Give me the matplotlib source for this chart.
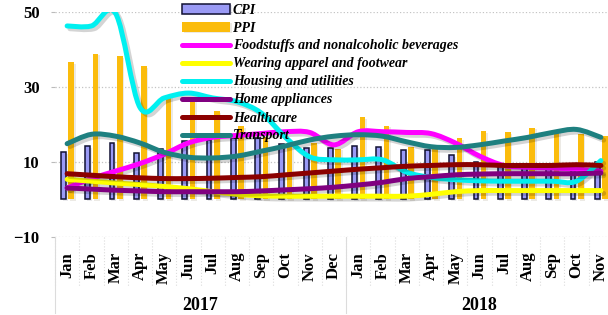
import numpy as np
import matplotlib
matplotlib.use('Agg')
import matplotlib.pyplot as plt
import matplotlib.patheffects as pe
from matplotlib.path import Path
from matplotlib.patches import PathPatch
from matplotlib.lines import Line2D
from matplotlib.transforms import blended_transform_factory

plt.rcParams['font.family'] = ['Liberation Serif', 'DejaVu Serif']

# Category axis: months of 2017 and 2018
months = ['Jan', 'Feb', 'Mar', 'Apr', 'May', 'Jun', 'Jul', 'Aug', 'Sep', 'Oct', 'Nov', 'Dec',
          'Jan', 'Feb', 'Mar', 'Apr', 'May', 'Jun', 'Jul', 'Aug', 'Sep', 'Oct', 'Nov']
years = ['2017', '2018']
year_counts = [12, 11]

# Bars (% year on year)
cpi = [12.6, 14.2, 15.1, 12.2, 13.5, 15.6, 15.9, 16.2, 16.4, 14.6, 13.6, 13.7,
       14.1, 13.9, 13.2, 13.1, 11.7, 9.9, 8.9, 9.0, 8.9, 9.5, 10.0]
ppi = [36.6, 38.8, 38.2, 35.4, 27.3, 26.8, 23.5, 19.5, 16.5, 14.0, 15.0, 13.5,
       21.9, 19.6, 13.8, 13.4, 16.3, 18.1, 17.9, 19.1, 18.3, 17.4, 16.8]

# Lines
food = [3.0, 5.5, 7.5, 9.5, 12.0, 15.0, 16.5, 17.0, 17.5, 18.0, 17.8, 14.5,
        18.0, 18.0, 17.8, 17.5, 15.0, 11.5, 9.0, 8.5, 8.3, 8.0, 7.5]
apparel = [5.3, 4.8, 4.3, 3.9, 3.4, 2.8, 2.0, 1.3, 0.9, 0.8, 0.8, 0.8,
           0.8, 0.8, 0.8, 1.3, 2.0, 2.3, 2.3, 2.3, 2.3, 2.3, 2.3]
housing = [46.2, 46.2, 49.5, 24.5, 27.0, 28.3, 27.0, 26.0, 23.0, 16.5, 11.3, 10.5,
           10.5, 10.5, 7.2, 5.8, 5.2, 4.9, 4.8, 4.8, 4.8, 4.8, 10.3]
appliances = [3.0, 2.7, 2.4, 2.2, 2.0, 2.0, 2.0, 2.0, 2.2, 2.5, 2.8, 3.2,
              3.8, 4.5, 5.5, 6.0, 6.5, 6.7, 6.8, 6.8, 6.8, 6.8, 7.0]
healthcare = [6.8, 6.4, 6.0, 5.7, 5.5, 5.5, 5.6, 5.8, 6.0, 6.5, 7.0, 7.5,
              8.0, 8.4, 8.8, 9.0, 9.2, 9.2, 9.0, 9.0, 9.0, 9.2, 9.0]
transport = [14.8, 17.3, 16.8, 15.0, 12.5, 11.2, 11.0, 11.5, 12.8, 14.2, 15.8, 16.8,
             17.2, 16.8, 15.3, 14.0, 13.8, 14.5, 15.5, 16.5, 17.8, 18.6, 16.5]

line_series = [
    ('Foodstuffs and nonalcoholic beverages', food, '#ff00ff'),
    ('Wearing apparel and footwear', apparel, '#ffff00'),
    ('Housing and utilities', housing, '#00f0f0'),
    ('Home appliances', appliances, '#800080'),
    ('Healthcare', healthcare, '#8b0000'),
    ('Transport', transport, '#1e8080'),
]


def smooth_path(xs, ys):
    # Excel-like smoothed line through the data points (cubic Bezier segments)
    pts = np.column_stack([xs, ys]).astype(float)
    n = len(pts)
    verts = [pts[0]]
    codes = [Path.MOVETO]
    for i in range(n - 1):
        p0 = pts[i - 1] if i > 0 else pts[i]
        p1 = pts[i]
        p2 = pts[i + 1]
        p3 = pts[i + 2] if i + 2 < n else pts[i + 1]
        verts += [p1 + (p2 - p0) / 6, p2 - (p3 - p1) / 6, p2]
        codes += [Path.CURVE4] * 3
    return Path(verts, codes)


fig = plt.figure(figsize=(6.08, 3.15), dpi=100)
ax = fig.add_axes([55 / 608, 78.3 / 315, 558 / 608, 225 / 315])

x = np.arange(len(months))
shadow_bar = [pe.SimplePatchShadow(offset=(1.2, -1.2), alpha=0.1), pe.Normal()]
b1 = ax.bar(x - 0.15, cpi, width=0.2, color='#9a9af5', edgecolor='#111133',
            linewidth=1.1, zorder=2, label='CPI')
b2 = ax.bar(x + 0.17, ppi, width=0.23, color='#fbbc0c', linewidth=0,
            zorder=2, label='PPI')
for r in list(b1) + list(b2):
    r.set_path_effects(shadow_bar)

handles = [b1, b2]
labels = ['CPI', 'PPI']
for k, (name, vals, col) in enumerate(line_series):
    patch = PathPatch(smooth_path(x, vals), fill=False, edgecolor=col, lw=3.6,
                      capstyle='round', joinstyle='round', zorder=3 + k,
                      path_effects=[pe.SimpleLineShadow(offset=(2, -2), shadow_color='black', alpha=0.17),
                                    pe.Normal()])
    ax.add_patch(patch)
    handles.append(Line2D([], [], color=col, lw=3.6, solid_capstyle='round'))
    labels.append(name)

ax.set_xlim(-0.5, len(months) - 0.5)
ax.set_ylim(-10, 50)
ax.set_yticks([-10, 10, 30, 50])
ax.yaxis.grid(True, linestyle=':', color='#c4c4c4', linewidth=0.9)
ax.set_axisbelow(True)
for s in ax.spines.values():
    s.set_visible(False)

ax.tick_params(axis='y', length=3, color='#bbbbbb', pad=8, labelsize=12)
for t in ax.get_yticklabels():
    t.set_fontweight('bold')

ax.set_xticks(x)
ax.set_xticklabels(months, rotation=90, fontsize=12, fontweight='bold')
ax.tick_params(axis='x', length=0, pad=11)

# multi-level category axis: separators and year labels
trans = blended_transform_factory(ax.transData, ax.transAxes)
for i in range(len(months) + 1):
    ax.add_line(Line2D([i - 0.5, i - 0.5], [0, -0.225], transform=trans, color='#dcdcdc',
                       lw=0.8, linestyle=':', clip_on=False))
start = 0
for yr, cnt in zip(years, year_counts):
    ax.add_line(Line2D([start - 0.5, start - 0.5], [0, -0.34], transform=trans, color='#dcdcdc',
                       lw=0.8, clip_on=False))
    ax.text(start + (cnt - 1) / 2, -0.308, yr, transform=trans, ha='center', va='center',
            fontsize=13, fontweight='bold')
    start += cnt

leg = ax.legend(handles, labels, loc='upper left', bbox_to_anchor=(182 / 608, 1 - 3.5 / 315),
                bbox_transform=fig.transFigure, frameon=False, borderpad=0, borderaxespad=0,
                handlelength=3.45, handletextpad=0.2, labelspacing=0.36,
                prop={'family': 'Liberation Serif', 'weight': 'bold', 'style': 'italic', 'size': 10})
leg.set_zorder(20)

fig.savefig('out.png', dpi=100)
